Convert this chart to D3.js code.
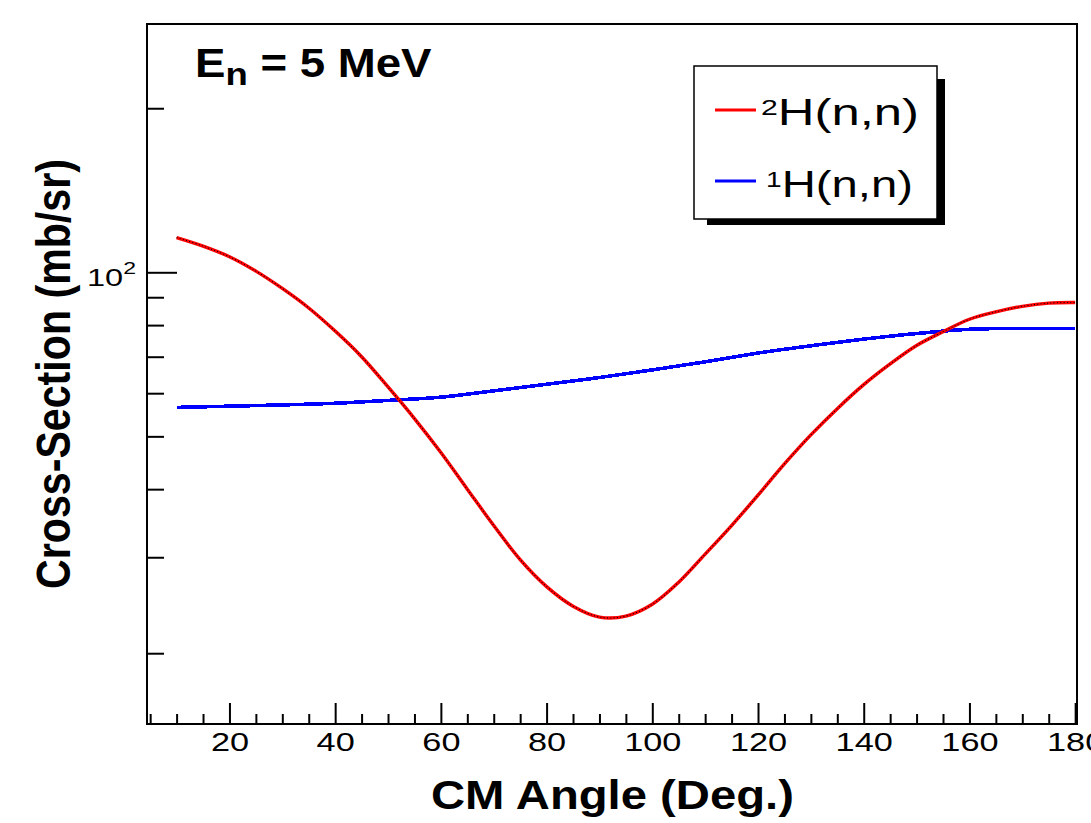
<!DOCTYPE html>
<html>
<head>
<meta charset="utf-8">
<script src="https://cdn.jsdelivr.net/npm/d3@7"></script>
<style>
  html, body { margin: 0; padding: 0; background: #fff; }
  svg { display: block; }
  text { font-family: "Liberation Sans", Arial, Helvetica, sans-serif; fill: #000; }
</style>
</head>
<body>
<svg id="chart" width="1091" height="823"></svg>
<script>
// Elastic n-d and n-p differential cross sections at En = 5 MeV (mb/sr vs CM angle)
const deuteronAngles = [10, 15, 20, 25, 30, 35, 40, 45, 50, 55, 60, 65, 70, 75, 80, 85, 90,
                        95, 100, 105, 110, 115, 120, 125, 130, 135, 140, 145, 150, 155, 160,
                        165, 170, 175, 180];
const deuteronXS = [115.8, 111.7, 106.8, 100.5, 93.4, 86.0, 78.0, 70.0, 61.6, 53.9, 46.7,
                    40.0, 34.3, 29.7, 26.5, 24.4, 23.3, 23.4, 24.6, 27.0, 30.4, 34.3, 39.0,
                    44.5, 50.3, 56.2, 62.2, 67.9, 73.4, 77.8, 82.0, 84.6, 86.6, 87.8, 88.0];

const protonAngles = [10, 20, 30, 40, 50, 60, 70, 80, 90, 100, 110, 120, 130, 140, 150, 160, 170, 180];
const protonXS = [56.5, 56.8, 57.1, 57.5, 58.2, 59.0, 60.6, 62.3, 64.1, 66.2, 68.5, 71.1,
                  73.3, 75.4, 77.2, 78.6, 78.9, 78.9];

const xMajorTicks = [20, 40, 60, 80, 100, 120, 140, 160, 180];
const xMinorTicks = [5, 10, 15, 25, 30, 35, 45, 50, 55, 65, 70, 75, 85, 90, 95, 105, 110, 115,
                     125, 130, 135, 145, 150, 155, 165, 170, 175];
const yMajorTicks = [100];
const yMinorTicks = [20, 30, 40, 50, 60, 70, 80, 90, 200];

const legendEntries = [
  { sup: "2", base: "H(n,n)", color: "#ff0000" },
  { sup: "1", base: "H(n,n)", color: "#0000ff" }
];
const titleText = { main: "E", sub: "n", rest: " = 5 MeV" };
const xTitle = "CM Angle (Deg.)";
const yTitle = "Cross-Section (mb/sr)";

// ---- layout ----
const frame = { left: 147, top: 24, right: 1077, bottom: 724 };

const svg = d3.select("#chart");

const x = d3.scaleLinear().domain([4.4, 180.35]).range([frame.left, frame.right]);
const y = d3.scaleLog().domain([14.83, 285.5]).range([frame.bottom, frame.top]);

// stretch a text node horizontally so its box spans [x0, x1]
function fitWidth(node, x0, x1) {
  const bb = node.getBBox();
  const k = (x1 - x0) / bb.width;
  node.setAttribute("transform", `translate(${x0},0) scale(${k},1) translate(${-bb.x},0)`);
}

// frame
svg.append("rect")
  .attr("x", frame.left).attr("y", frame.top)
  .attr("width", frame.right - frame.left).attr("height", frame.bottom - frame.top)
  .attr("fill", "none").attr("stroke", "#000").attr("stroke-width", 2);

// y axis ticks (inside the frame)
const yAxisMajor = d3.axisLeft(y).tickValues(yMajorTicks).tickSize(-30).tickFormat("");
const yAxisMinor = d3.axisLeft(y).tickValues(yMinorTicks).tickSize(-17).tickFormat("");
[yAxisMajor, yAxisMinor].forEach(ax => {
  const g = svg.append("g").attr("transform", `translate(${frame.left},0)`).call(ax);
  g.select(".domain").remove();
  g.selectAll("line").attr("stroke", "#000").attr("stroke-width", 2);
});

// x axis ticks and labels
const xAxisMajor = d3.axisBottom(x).tickValues(xMajorTicks).tickSize(-21).tickPadding(9)
  .tickFormat(d3.format("d"));
const xAxisMinor = d3.axisBottom(x).tickValues(xMinorTicks).tickSize(-10).tickFormat("");
const gxMinor = svg.append("g").attr("transform", `translate(0,${frame.bottom})`).call(xAxisMinor);
const gxMajor = svg.append("g").attr("transform", `translate(0,${frame.bottom})`).call(xAxisMajor);
[gxMinor, gxMajor].forEach(g => {
  g.select(".domain").remove();
  g.selectAll("line").attr("stroke", "#000").attr("stroke-width", 2);
});
gxMajor.selectAll("text")
  .attr("font-family", "Liberation Sans, Arial, sans-serif")
  .attr("font-size", 26)
  .attr("fill", "#000")
  .attr("transform", "scale(1.32,1)");

// y tick label 10^2
const yLab = svg.append("text").attr("y", y(100) + 14);
yLab.append("tspan").attr("font-size", 24).text("10");
yLab.append("tspan").attr("font-size", 17).attr("dy", -12).text("2");
fitWidth(yLab.node(), 87, 136);

// curves
const line = d3.line().x(d => x(d[0])).y(d => y(d[1])).curve(d3.curveCatmullRom.alpha(0.5));
const protonPts = protonAngles.map((a, i) => [a, protonXS[i]]);
const deuteronPts = deuteronAngles.map((a, i) => [a, deuteronXS[i]]);

svg.append("path").datum(protonPts)
  .attr("d", line).attr("fill", "none")
  .attr("stroke", legendEntries[1].color).attr("stroke-width", 3.6)
  .attr("shape-rendering", "crispEdges");

svg.append("path").datum(deuteronPts)
  .attr("d", line).attr("fill", "none")
  .attr("stroke", legendEntries[0].color).attr("stroke-width", 3.4);
svg.append("path").datum(deuteronPts)
  .attr("d", line).attr("fill", "none")
  .attr("stroke", "#000").attr("stroke-width", 1.1)
  .attr("stroke-dasharray", "1,2.3");

// energy label
const tTitle = svg.append("text").attr("y", 76.7).attr("font-weight", "bold");
tTitle.append("tspan").attr("font-size", 40).text(titleText.main);
tTitle.append("tspan").attr("font-size", 32).attr("dy", 8).text(titleText.sub);
tTitle.append("tspan").attr("font-size", 40).attr("dy", -8).text(titleText.rest);
fitWidth(tTitle.node(), 195, 432);

// legend with drop shadow
const lg = { x: 694, y: 66, w: 243, h: 153 };
svg.append("rect").attr("x", lg.x + lg.w).attr("y", lg.y + 13).attr("width", 8).attr("height", lg.h - 7).attr("fill", "#000");
svg.append("rect").attr("x", lg.x + 13).attr("y", lg.y + lg.h).attr("width", lg.w - 5).attr("height", 6).attr("fill", "#000");
svg.append("rect").attr("x", lg.x).attr("y", lg.y).attr("width", lg.w).attr("height", lg.h)
  .attr("fill", "#fff").attr("stroke", "#000").attr("stroke-width", 1.5);

const legendRows = [
  { lineY: 110, base: 125, x0: 761, x1: 919 },
  { lineY: 181, base: 196.7, x0: 766, x1: 913 }
];
legendEntries.forEach((e, i) => {
  const r = legendRows[i];
  svg.append("line").attr("x1", 715).attr("x2", 756).attr("y1", r.lineY).attr("y2", r.lineY)
    .attr("stroke", e.color).attr("stroke-width", 3.2);
  const t = svg.append("text").attr("y", r.base);
  t.append("tspan").attr("font-size", 22).attr("dy", -10).text(e.sup);
  t.append("tspan").attr("font-size", 37).attr("dy", 10).text(e.base);
  fitWidth(t.node(), r.x0, r.x1);
});

// axis titles
const xt = svg.append("text").attr("y", 809).attr("font-size", 41).attr("font-weight", "bold").text(xTitle);
fitWidth(xt.node(), 431, 794);

const yt = svg.append("text").attr("font-size", 41).attr("font-weight", "bold")
  .attr("text-anchor", "middle").text(yTitle);
const ytLen = yt.node().getComputedTextLength();
const along = 430 / ytLen;
yt.attr("transform", `translate(70,374) scale(${1.18 * along},${along}) rotate(-90)`);
</script>
</body>
</html>
